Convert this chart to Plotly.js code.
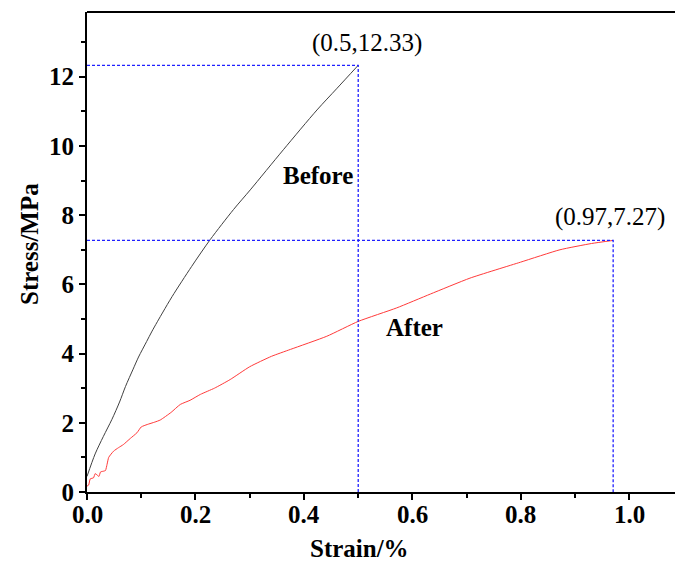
<!DOCTYPE html>
<html>
<head>
<meta charset="utf-8">
<script src="https://cdn.plot.ly/plotly-3.0.1.min.js"></script>
<style>html,body{margin:0;padding:0;background:#fff;}#chart{width:675px;height:562px;}</style>
</head>
<body>
<div id="chart"></div>
<script>
// Stress-strain data (strain in %, stress in MPa)
var beforeStrain = [0, 0.015, 0.03, 0.046, 0.06, 0.071, 0.085, 0.095, 0.11, 0.12, 0.14, 0.157, 0.193, 0.227, 0.27, 0.301, 0.362, 0.424, 0.46, 0.5];
var beforeStress = [0.45, 1.1, 1.6, 2.1, 2.6, 3.05, 3.55, 3.9, 4.35, 4.65, 5.2, 5.65, 6.52, 7.29, 8.16, 8.73, 9.89, 11.04, 11.65, 12.33];

var afterStrain = [0, 0.003, 0.006, 0.012, 0.015, 0.018, 0.022, 0.025, 0.03, 0.034, 0.037, 0.04, 0.049, 0.058, 0.067, 0.08, 0.092, 0.1, 0.111, 0.125, 0.135, 0.155, 0.172, 0.19, 0.209, 0.235, 0.264, 0.3, 0.34, 0.375, 0.442, 0.5, 0.571, 0.633, 0.706, 0.799, 0.872, 0.93, 0.97];
var afterStress = [0.17, 0.2, 0.38, 0.41, 0.53, 0.5, 0.45, 0.58, 0.6, 0.62, 0.8, 1.0, 1.18, 1.28, 1.37, 1.55, 1.71, 1.88, 1.95, 2.02, 2.08, 2.3, 2.53, 2.65, 2.82, 3.0, 3.25, 3.62, 3.92, 4.12, 4.5, 4.93, 5.32, 5.72, 6.18, 6.64, 7.0, 7.18, 7.27];

var peakStrain = [0.5, 0.97];
var peakStress = [12.33, 7.27];
var seriesNames = ['Before', 'After'];

var xTickVals = [0, 0.2, 0.4, 0.6, 0.8, 1.0];
var xTickText = ['0.0', '0.2', '0.4', '0.6', '0.8', '1.0'];
var yTickVals = [0, 2, 4, 6, 8, 10, 12];

var FONT = '"Liberation Serif", "Times New Roman", serif';
var FS = 25;

var traces = [
  {x: beforeStrain, y: beforeStress, mode: 'lines', line: {color: '#404040', width: 1, shape: 'spline', smoothing: 0.8}, hoverinfo: 'skip'},
  {x: afterStrain, y: afterStress, mode: 'lines', line: {color: '#ff3a3a', width: 1, shape: 'spline', smoothing: 0.5}, hoverinfo: 'skip'}
];
// guide lines to peaks
for (var i = 0; i < peakStrain.length; i++) {
  traces.push({x: [0, peakStrain[i], peakStrain[i]], y: [peakStress[i], peakStress[i], 0],
    mode: 'lines', line: {color: '#2020ff', width: 1.3, dash: '3px,2px'}, hoverinfo: 'skip'});
}

var L = 87, R = 0, T = 12, B = 70, W = 675, H = 562;
var pw = W - L - R, ph = H - T - B;

var annPos = [[0.517, 12.97], [0.964, 7.95]];
var namePos = [[0.426, 9.14], [0.603, 4.75]];
var annotations = [];
for (var j = 0; j < peakStrain.length; j++) {
  annotations.push({x: annPos[j][0], y: annPos[j][1], xref: 'x', yref: 'y', showarrow: false,
    xanchor: 'center', yanchor: 'middle',
    text: '(' + peakStrain[j] + ',' + peakStress[j] + ')', font: {family: FONT, size: FS, color: '#000'}});
  annotations.push({x: namePos[j][0], y: namePos[j][1], xref: 'x', yref: 'y', showarrow: false,
    xanchor: 'center', yanchor: 'middle',
    text: '<b>' + seriesNames[j] + '</b>', font: {family: FONT, size: FS, color: '#000'}});
}
// x tick labels (drawn a little closer to the axis than Plotly's default)
for (var k = 0; k < xTickVals.length; k++) {
  annotations.push({x: xTickVals[k], y: 0, xref: 'x', yref: 'paper', showarrow: false,
    xanchor: 'center', yanchor: 'top', yshift: -7,
    text: '<b>' + xTickText[k] + '</b>', font: {family: FONT, size: FS, color: '#000'}});
}
// axis titles placed by pixel position, converted to paper coords
annotations.push({xref: 'paper', yref: 'paper', x: (359 - L) / pw, y: (H - B - 548) / ph,
  xanchor: 'center', yanchor: 'middle', showarrow: false, text: '<b>Strain/%</b>',
  font: {family: FONT, size: FS, color: '#000'}});
annotations.push({xref: 'paper', yref: 'paper', x: (30 - L) / pw, y: (H - B - 244) / ph,
  xanchor: 'center', yanchor: 'middle', showarrow: false, text: '<b>Stress/MPa</b>', textangle: -90,
  font: {family: FONT, size: FS, color: '#000'}});

var axisCommon = {
  showgrid: false, zeroline: false, showline: true, linecolor: '#000', linewidth: 2,
  ticks: 'outside', ticklen: 6, tickwidth: 2, tickcolor: '#000',
  tickfont: {family: FONT, size: FS, color: '#000', weight: 'bold'}
};

var layout = {
  width: W, height: H,
  margin: {l: L, r: R, t: T, b: B, pad: 0},
  paper_bgcolor: '#fff', plot_bgcolor: '#fff',
  showlegend: false,
  xaxis: Object.assign({}, axisCommon, {range: [0, 1.084], tickvals: xTickVals, ticktext: xTickText, mirror: false,
    showticklabels: false,
    minor: {dtick: 0.1, tick0: 0, ticks: 'outside', ticklen: 4, tickwidth: 2, tickcolor: '#000'}}),
  yaxis: Object.assign({}, axisCommon, {range: [0, 13.87], tickvals: yTickVals,
    minor: {dtick: 1, tick0: 0, ticks: 'outside', ticklen: 4, tickwidth: 2, tickcolor: '#000'}}),
  shapes: [{type: 'line', xref: 'paper', yref: 'paper', x0: 0, x1: 1, y0: 1, y1: 1, line: {color: '#000', width: 2}}],
  annotations: annotations
};

Plotly.newPlot('chart', traces, layout, {displayModeBar: false, staticPlot: true});
</script>
</body>
</html>
